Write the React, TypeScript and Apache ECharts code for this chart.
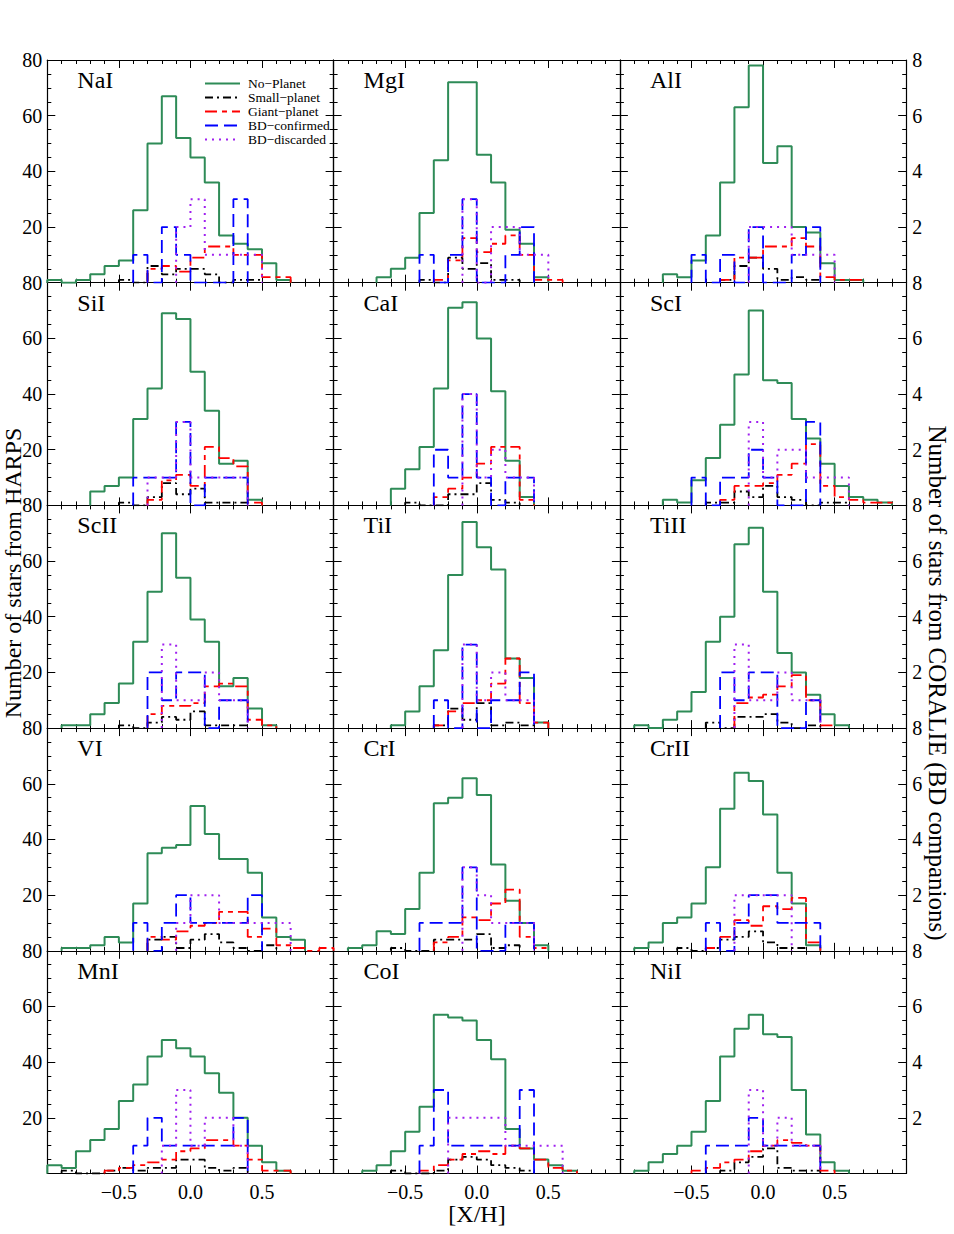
import React, { useEffect, useRef } from "react";
import * as echarts from "echarts";

// Histogram bins: left edges start at -1.0, width 0.1, 20 bins
const binStart = -1.0;
const binWidth = 0.1;
const binCount = 20;

const seriesNames = ["No−Planet", "Small−planet", "Giant−planet", "BD−confirmed", "BD−discarded"];
const xTickLabels: Record<string, string> = { "-0.5": "−0.5", "0": "0.0", "0.5": "0.5" };
const leftTickLabels = [20, 40, 60, 80];
const rightTickLabels = [2, 4, 6, 8];

// counts per bin; No-Planet, Small-planet, Giant-planet on HARPS axis; BD on CORALIE axis
const NaI_np = [1,0,1,3,6,8,26,50,67,52,45,36,17,14,12,7,1,0,0,0];
const NaI_sp = [0,0,0,0,0,1,0,6,3,5,5,3,0,1,1,0,0,0,0,0];
const NaI_gp = [0,0,0,0,0,0,0,5,6,4,9,13,13,10,10,2,2,0,0,0];
const NaI_bc = [0,0,0,0,0,0,1,0,2,1,0,0,0,3,0,0,0,0,0,0];
const NaI_bd = [0,0,0,0,0,0,0,0,0,2,3,1,1,1,1,0,0,0,0,0];

const MgI_np = [0,0,0,2,5,9,25,44,72,72,46,36,19,14,2,0,0,0,0,0];
const MgI_sp = [0,0,0,0,0,0,1,0,9,5,7,1,1,0,0,0,0,0,0,0];
const MgI_gp = [0,0,0,0,0,0,0,1,8,16,11,14,17,10,1,1,0,0,0,0];
const MgI_bc = [0,0,0,0,0,0,1,0,1,3,0,0,1,2,0,0,0,0,0,0];
const MgI_bd = [0,0,0,0,0,0,0,0,0,3,0,2,2,1,1,0,0,0,0,0];

const AlI_np = [0,0,0,3,2,8,17,36,63,78,43,49,20,18,7,1,1,0,0,0];
const AlI_sp = [0,0,0,0,0,0,0,1,6,9,5,1,2,1,0,0,0,0,0,0];
const AlI_gp = [0,0,0,0,0,0,0,1,9,9,13,13,16,13,2,1,1,0,0,0];
const AlI_bc = [0,0,0,0,0,1,0,1,0,2,0,0,1,2,0,0,0,0,0,0];
const AlI_bd = [0,0,0,0,0,0,0,0,0,2,2,2,1,1,1,0,0,0,0,0];

const SiI_np = [0,0,0,5,7,10,31,42,69,67,48,34,15,16,2,0,0,0,0,0];
const SiI_sp = [0,0,0,0,0,1,0,3,8,4,6,1,1,1,0,0,0,0,0,0];
const SiI_gp = [0,0,0,0,0,0,0,2,9,11,7,21,17,14,1,0,0,0,0,0];
const SiI_bc = [0,0,0,0,0,0,1,1,1,3,0,1,1,1,0,0,0,0,0,0];
const SiI_bd = [0,0,0,0,0,0,0,1,1,3,1,1,1,1,0,0,0,0,0,0];

const CaI_np = [0,0,0,0,6,13,21,42,71,73,60,41,16,3,0,0,0,0,0,0];
const CaI_sp = [0,0,0,0,0,1,0,0,4,4,8,2,1,0,0,0,0,0,0,0];
const CaI_gp = [0,0,0,0,0,0,0,3,6,10,15,21,21,2,0,0,0,0,0,0];
const CaI_bc = [0,0,0,0,0,0,0,2,1,4,1,0,1,1,0,0,0,0,0,0];
const CaI_bd = [0,0,0,0,0,0,0,0,0,4,1,2,1,1,0,0,0,0,0,0];

const ScI_np = [0,0,0,2,1,9,17,29,47,70,45,44,31,24,15,7,3,2,1,0];
const ScI_sp = [0,0,0,0,0,0,1,1,5,3,7,3,2,0,1,1,0,0,0,0];
const ScI_gp = [0,0,0,0,0,0,0,2,7,7,8,11,15,22,7,3,2,1,1,0];
const ScI_bc = [0,0,0,0,0,1,0,1,1,2,1,0,0,3,0,0,0,0,0,0];
const ScI_bd = [0,0,0,0,0,0,0,0,0,3,1,2,2,1,1,1,0,0,0,0];

const ScII_np = [0,1,1,5,9,16,31,49,70,54,39,31,15,18,7,1,0,0,0,0];
const ScII_sp = [0,0,0,0,0,1,0,2,4,3,6,1,1,1,0,0,0,0,0,0];
const ScII_gp = [0,0,0,0,0,0,0,5,8,8,9,15,16,15,3,1,0,0,0,0];
const ScII_bc = [0,0,0,0,0,0,0,2,1,2,2,0,1,1,0,0,0,0,0,0];
const ScII_bd = [0,0,0,0,0,0,0,0,3,1,1,2,1,1,0,0,0,0,0,0];

const TiI_np = [0,0,0,0,1,6,15,28,55,74,65,57,25,18,2,0,0,0,0,0];
const TiI_sp = [0,0,0,0,0,0,0,1,7,3,9,1,2,1,0,0,0,0,0,0];
const TiI_gp = [0,0,0,0,0,0,0,1,6,9,10,16,25,9,2,0,0,0,0,0];
const TiI_bc = [0,0,0,0,0,0,0,1,0,3,0,1,1,2,0,0,0,0,0,0];
const TiI_bd = [0,0,0,0,0,0,0,0,0,3,1,2,1,1,0,0,0,0,0,0];

const TiII_np = [0,1,0,3,6,13,31,40,66,72,49,27,20,12,5,1,0,0,0,0];
const TiII_sp = [0,0,0,0,0,0,2,0,4,4,5,2,0,1,0,0,0,0,0,0];
const TiII_gp = [0,0,0,0,0,0,0,0,9,11,12,15,19,10,1,0,0,0,0,0];
const TiII_bc = [0,0,0,0,0,0,0,2,1,2,2,0,0,1,0,0,0,0,0,0];
const TiII_bd = [0,0,0,0,0,0,0,0,3,1,1,2,1,1,0,0,0,0,0,0];

const VI_np = [0,1,1,2,5,3,17,35,37,38,52,42,33,33,28,12,5,4,0,0];
const VI_sp = [0,0,0,0,0,0,0,4,5,1,4,6,3,1,0,2,0,0,0,0];
const VI_gp = [0,0,0,0,0,0,0,5,4,7,9,10,14,14,5,8,2,1,0,1];
const VI_bc = [0,0,0,0,0,0,1,0,1,2,1,1,1,1,2,0,0,0,0,0];
const VI_bd = [0,0,0,0,0,0,0,0,0,1,2,2,1,1,1,1,1,0,0,0];

const CrI_np = [0,1,2,7,6,15,28,53,55,62,56,31,18,10,2,0,0,0,0,0];
const CrI_sp = [0,0,0,0,1,0,0,4,4,4,6,1,2,0,0,0,0,0,0,0];
const CrI_gp = [0,0,0,0,0,0,0,3,5,12,11,17,22,5,1,0,0,0,0,0];
const CrI_bc = [0,0,0,0,0,0,1,1,1,3,0,0,1,1,0,0,0,0,0,0];
const CrI_bd = [0,0,0,0,0,0,0,0,0,3,2,1,1,1,0,0,0,0,0,0];

const CrII_np = [0,1,3,10,12,17,30,51,64,61,49,28,17,2,0,0,0,0,0,0];
const CrII_sp = [0,0,0,0,1,0,1,4,5,7,3,1,1,0,0,0,0,0,0,0];
const CrII_gp = [0,0,0,0,0,0,1,5,11,9,16,15,19,3,0,0,0,0,0,0];
const CrII_bc = [0,0,0,0,0,0,1,0,1,2,2,1,1,1,0,0,0,0,0,0];
const CrII_bd = [0,0,0,0,0,0,0,0,2,2,2,2,0,0,0,0,0,0,0,0];

const MnI_np = [3,2,8,12,16,26,32,42,48,45,42,36,29,20,10,4,1,0,0,0];
const MnI_sp = [0,1,0,0,1,2,1,2,2,5,5,2,1,2,0,0,0,0,0,0];
const MnI_gp = [0,0,0,0,1,2,3,4,5,8,9,12,12,10,5,1,1,0,0,0];
const MnI_bc = [0,0,0,0,0,0,1,2,1,1,1,1,1,2,0,0,0,0,0,0];
const MnI_bd = [0,0,0,0,0,0,0,0,1,3,1,2,2,1,0,0,0,0,0,0];

const CoI_np = [0,0,1,3,8,15,24,57,56,55,48,41,16,9,5,3,1,0,0,0];
const CoI_sp = [0,0,0,0,1,0,0,1,5,6,5,3,2,1,0,0,0,0,0,0];
const CoI_gp = [0,0,0,0,0,0,1,3,5,7,8,7,10,9,5,2,1,0,0,0];
const CoI_bc = [0,0,0,0,0,0,1,3,1,1,1,1,1,3,0,0,0,0,0,0];
const CoI_bd = [0,0,0,0,0,0,0,0,2,2,2,2,1,1,1,1,0,0,0,0];

const NiI_np = [0,1,4,7,10,15,26,42,52,57,50,49,30,14,4,1,0,0,0,0];
const NiI_sp = [0,0,0,0,0,0,0,1,4,6,9,2,1,1,0,0,0,0,0,0];
const NiI_gp = [0,0,0,0,0,1,2,4,5,8,10,12,11,10,1,0,0,0,0,0];
const NiI_bc = [0,0,0,0,0,0,1,1,1,2,1,1,1,1,0,0,0,0,0,0];
const NiI_bd = [0,0,0,0,0,0,0,0,0,3,1,2,1,1,0,0,0,0,0,0];

const panels = [
  { name: "NaI", data: [NaI_np, NaI_sp, NaI_gp, NaI_bc, NaI_bd] },
  { name: "MgI", data: [MgI_np, MgI_sp, MgI_gp, MgI_bc, MgI_bd] },
  { name: "AlI", data: [AlI_np, AlI_sp, AlI_gp, AlI_bc, AlI_bd] },
  { name: "SiI", data: [SiI_np, SiI_sp, SiI_gp, SiI_bc, SiI_bd] },
  { name: "CaI", data: [CaI_np, CaI_sp, CaI_gp, CaI_bc, CaI_bd] },
  { name: "ScI", data: [ScI_np, ScI_sp, ScI_gp, ScI_bc, ScI_bd] },
  { name: "ScII", data: [ScII_np, ScII_sp, ScII_gp, ScII_bc, ScII_bd] },
  { name: "TiI", data: [TiI_np, TiI_sp, TiI_gp, TiI_bc, TiI_bd] },
  { name: "TiII", data: [TiII_np, TiII_sp, TiII_gp, TiII_bc, TiII_bd] },
  { name: "VI", data: [VI_np, VI_sp, VI_gp, VI_bc, VI_bd] },
  { name: "CrI", data: [CrI_np, CrI_sp, CrI_gp, CrI_bc, CrI_bd] },
  { name: "CrII", data: [CrII_np, CrII_sp, CrII_gp, CrII_bc, CrII_bd] },
  { name: "MnI", data: [MnI_np, MnI_sp, MnI_gp, MnI_bc, MnI_bd] },
  { name: "CoI", data: [CoI_np, CoI_sp, CoI_gp, CoI_bc, CoI_bd] },
  { name: "NiI", data: [NiI_np, NiI_sp, NiI_gp, NiI_bc, NiI_bd] },
];

const COLORS = ["#2e8b57", "#000000", "#ff0000", "#0000ff", "#a020f0"];
const DASHES: any[] = ["solid", [8, 4, 2, 4], [12, 5, 5, 5], [13, 6], [2, 5]];
const WIDTHS = [2, 1.8, 1.8, 1.8, 2];
const FONT = "'Liberation Serif', 'DejaVu Serif', serif";

const GRID_LEFT = 47.3;
const GRID_TOP = 60;
const CELL_W = 286.3;
const CELL_H = 222.7;

function edge(k: number) {
  return Math.round((binStart + k * binWidth) * 100) / 100;
}

function histPoints(counts: number[]): number[][] {
  let first = -1;
  let last = -1;
  for (let k = 0; k < binCount; k++) {
    if (counts[k] > 0) {
      if (first < 0) first = k;
      last = k;
    }
  }
  if (first < 0) return [];
  const pts: number[][] = [[edge(first), 0]];
  for (let k = first; k <= last; k++) {
    pts.push([edge(k), counts[k]]);
    pts.push([edge(k + 1), counts[k]]);
  }
  pts.push([edge(last + 1), 0]);
  return pts;
}

function buildOption() {
  const grid: any[] = [];
  const xAxis: any[] = [];
  const yAxis: any[] = [];
  const series: any[] = [];
  const graphic: any[] = [];

  const axisLine = { show: true, onZero: false, lineStyle: { color: "#000", width: 1.2 } };
  const axisTick = { show: true, inside: true, length: 8, lineStyle: { color: "#000", width: 1 } };

  panels.forEach((p, i) => {
    const row = Math.floor(i / 3);
    const col = i % 3;
    const left = GRID_LEFT + col * CELL_W;
    const top = GRID_TOP + row * CELL_H;
    grid.push({ left, top, width: CELL_W, height: CELL_H, containLabel: false });

    const xBase = {
      type: "value",
      gridIndex: i,
      min: -1,
      max: 1,
      interval: 0.5,
      axisLine,
      axisTick,
      minorTick: { show: true, splitNumber: 5, length: 4, lineStyle: { color: "#000", width: 1 } },
      splitLine: { show: false },
    };
    xAxis.push({
      ...xBase,
      position: "bottom",
      axisLabel: {
        show: row === 4,
        color: "#000",
        fontFamily: FONT,
        fontSize: 20,
        margin: 8,
        formatter: (v: number) => xTickLabels[String(Math.round(v * 10) / 10)] ?? "",
      },
    });
    xAxis.push({ ...xBase, position: "top", axisLabel: { show: false } });

    yAxis.push({
      type: "value",
      gridIndex: i,
      position: "left",
      min: 0,
      max: 80,
      interval: 20,
      axisLine,
      axisTick,
      minorTick: { show: true, splitNumber: 4, length: 4, lineStyle: { color: "#000", width: 1 } },
      splitLine: { show: false },
      axisLabel: {
        show: col === 0,
        color: "#000",
        fontFamily: FONT,
        fontSize: 20,
        margin: 5,
        formatter: (v: number) => (leftTickLabels.includes(v) ? String(v) : ""),
      },
    });
    yAxis.push({
      type: "value",
      gridIndex: i,
      position: "right",
      min: 0,
      max: 8,
      interval: 2,
      axisLine,
      axisTick,
      minorTick: { show: true, splitNumber: 4, length: 4, lineStyle: { color: "#000", width: 1 } },
      splitLine: { show: false },
      axisLabel: {
        show: col === 2,
        color: "#000",
        fontFamily: FONT,
        fontSize: 20,
        margin: 6,
        formatter: (v: number) => (rightTickLabels.includes(v) ? String(v) : ""),
      },
    });

    p.data.forEach((counts, s) => {
      series.push({
        type: "line",
        name: seriesNames[s],
        xAxisIndex: 2 * i,
        yAxisIndex: s < 3 ? 2 * i : 2 * i + 1,
        data: histPoints(counts),
        symbol: "none",
        showSymbol: false,
        silent: true,
        z: 2 + s,
        lineStyle: { color: COLORS[s], width: WIDTHS[s], type: DASHES[s] },
      });
    });

    graphic.push({
      type: "text",
      left: left + 30,
      top: top + 8,
      silent: true,
      style: { text: p.name, fontFamily: FONT, fontSize: 24, fill: "#000" },
    });
  });

  // legend in first panel
  const legX1 = 205;
  const legX2 = 240;
  const legY0 = 83.5;
  const legDy = 14;
  seriesNames.forEach((n, s) => {
    const y = legY0 + s * legDy;
    const dash = Array.isArray(DASHES[s]) ? DASHES[s] : null;
    graphic.push({
      type: "line",
      silent: true,
      shape: { x1: legX1, y1: y, x2: legX2, y2: y },
      style: { stroke: COLORS[s], lineWidth: WIDTHS[s], lineDash: dash },
      z: 100,
    });
    graphic.push({
      type: "text",
      silent: true,
      x: 248,
      y,
      style: { text: n, fontFamily: FONT, fontSize: 13.5, fill: "#000", textVerticalAlign: "middle", textAlign: "left" },
      z: 100,
    });
  });

  graphic.push({
    type: "text",
    silent: true,
    x: 12.5,
    y: 573,
    rotation: Math.PI / 2,
    style: {
      text: "Number of stars from HARPS",
      fontFamily: FONT,
      fontSize: 24,
      fill: "#000",
      textAlign: "center",
      textVerticalAlign: "middle",
    },
  });
  graphic.push({
    type: "text",
    silent: true,
    x: 937,
    y: 683,
    rotation: -Math.PI / 2,
    style: {
      text: "Number of stars from CORALIE (BD companions)",
      fontFamily: FONT,
      fontSize: 25,
      fill: "#000",
      textAlign: "center",
      textVerticalAlign: "middle",
    },
  });
  graphic.push({
    type: "text",
    silent: true,
    x: 477,
    y: 1214,
    style: {
      text: "[X/H]",
      fontFamily: FONT,
      fontSize: 24,
      fill: "#000",
      textAlign: "center",
      textVerticalAlign: "middle",
    },
  });

  return {
    animation: false,
    backgroundColor: "#ffffff",
    grid,
    xAxis,
    yAxis,
    series,
    graphic,
  };
}

export default function App() {
  const ref = useRef<HTMLDivElement>(null);
  useEffect(() => {
    if (!ref.current) return;
    const chart = echarts.init(ref.current, undefined, { renderer: "svg" });
    chart.setOption(buildOption() as any);
    return () => chart.dispose();
  }, []);
  return (
    <div
      ref={ref}
      style={{ position: "absolute", left: 0, top: 0, width: 954, height: 1234, background: "#fff" }}
    />
  );
}
